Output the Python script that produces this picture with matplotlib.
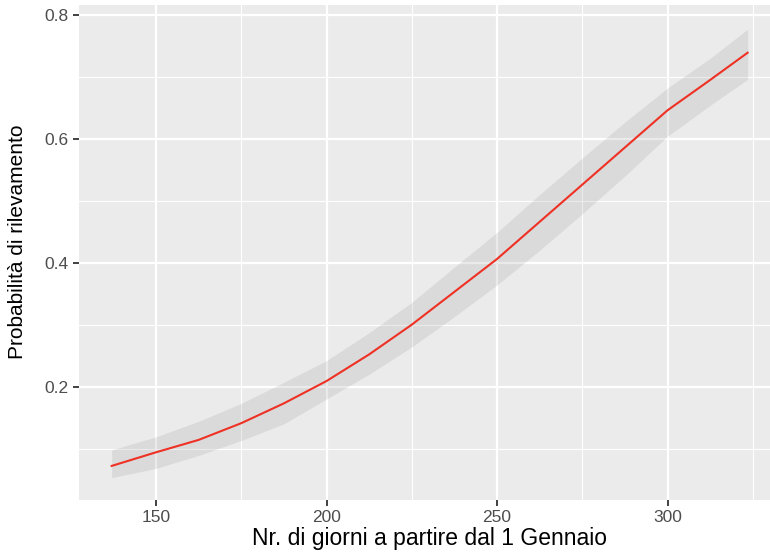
import numpy as np
import matplotlib
matplotlib.use("Agg")
import matplotlib.pyplot as plt
from matplotlib.ticker import MultipleLocator

plt.rcParams['font.family'] = ['Liberation Sans', 'DejaVu Sans']

# values (fitted curve + confidence band)
giorni = [137, 150, 162.5, 175, 187.5, 200, 212.5, 225, 237.5, 250,
          262.5, 275, 287.5, 300, 312.5, 323.5]
prob = [0.072, 0.094, 0.114, 0.141, 0.173, 0.209, 0.252, 0.300, 0.353, 0.406,
        0.466, 0.526, 0.586, 0.646, 0.695, 0.739]
prob_low = [0.053, 0.068, 0.089, 0.113, 0.140, 0.180, 0.220, 0.264, 0.313, 0.364,
            0.420, 0.479, 0.540, 0.604, 0.654, 0.696]
prob_high = [0.098, 0.119, 0.144, 0.173, 0.207, 0.242, 0.287, 0.336, 0.393, 0.449,
             0.510, 0.569, 0.627, 0.682, 0.730, 0.777]

fig = plt.figure(figsize=(7.7, 5.56), dpi=100)
ax = fig.add_axes([78.6 / 770, 56 / 556, (781.4 - 78.6) / 770, 495 / 556])
ax.set_facecolor('#EBEBEB')
for s in ax.spines.values():
    s.set_visible(False)

ax.fill_between(giorni, prob_low, prob_high, color='#999999', alpha=0.2, lw=0, zorder=2)
ax.plot(giorni, prob, color='#EE3124', lw=1.5, zorder=3)

ax.set_xlim(127.3, 333.4)
ax.set_ylim(0.017, 0.816)
ax.xaxis.set_major_locator(MultipleLocator(50))
ax.xaxis.set_minor_locator(MultipleLocator(25))
ax.yaxis.set_minor_locator(MultipleLocator(0.1))
ax.set_yticks([0.2, 0.4, 0.6, 0.8])
ax.set_yticklabels(['0.2', '0.4', '0.6', '0.8'])

ax.grid(which='major', color='white', lw=1.6, zorder=1)
ax.grid(which='minor', color='white', lw=0.8, zorder=1)
ax.set_axisbelow(True)

ax.tick_params(which='major', length=4, width=1.3, color='#333333',
               labelcolor='#4D4D4D', labelsize=12.5, pad=3)
ax.tick_params(which='minor', length=0)

ax.set_xlabel('Nr. di giorni a partire dal 1 Gennaio', fontsize=16.5, color='black', labelpad=2)
ax.set_ylabel('Probabilità di rilevamento', fontsize=15, color='black')
ax.yaxis.set_label_coords(-0.073, 0.521)

fig.savefig('out.png', dpi=100)
